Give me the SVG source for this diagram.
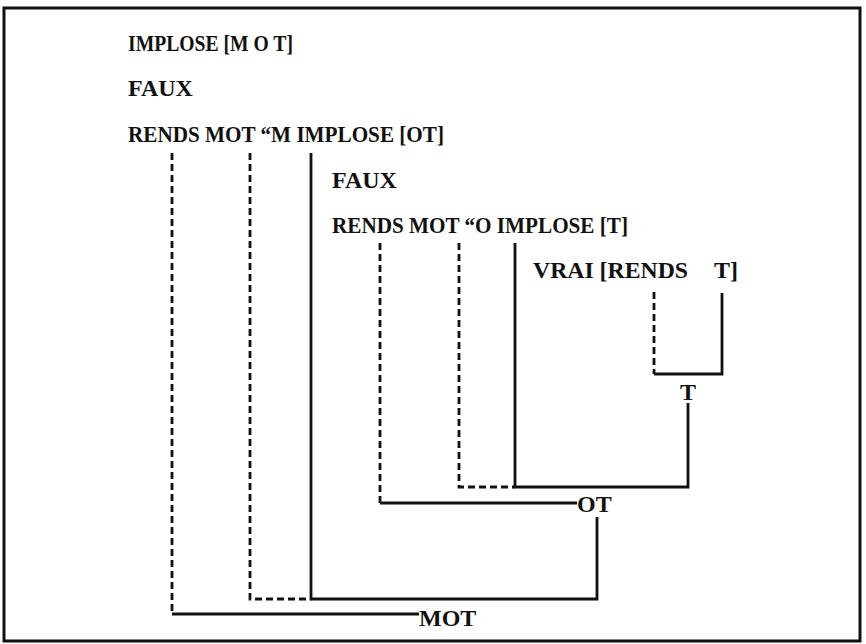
<svg xmlns="http://www.w3.org/2000/svg" width="866" height="644" viewBox="0 0 866 644">
<style>
  .t { font-family: "Liberation Serif", "Times New Roman", serif; font-weight: bold; font-size: 24px; fill: #111; }
  .s { fill: none; stroke: #111; stroke-width: 2.8; stroke-linejoin: miter; stroke-linecap: butt; }
  .d { fill: none; stroke: #111; stroke-width: 2.8; stroke-dasharray: 7 4; }
  .frame { fill: #fff; stroke: #111; stroke-width: 3; }
</style>
<rect class="frame" x="4" y="8" width="856" height="633"/>
<g id="lines-text">
  <text id="l1" class="t" x="128" y="51" textLength="165" lengthAdjust="spacingAndGlyphs">IMPLOSE [M O T]</text>
  <text id="l2" class="t" x="128" y="96">FAUX</text>
  <text id="l3" class="t" x="128" y="142" textLength="316" lengthAdjust="spacingAndGlyphs">RENDS MOT “M IMPLOSE [OT]</text>
  <text id="l4" class="t" x="332" y="188">FAUX</text>
  <text id="l5" class="t" x="332" y="233" textLength="296" lengthAdjust="spacingAndGlyphs">RENDS MOT “O IMPLOSE [T]</text>
  <text id="l6" class="t" x="533" y="278" textLength="155" lengthAdjust="spacingAndGlyphs">VRAI [RENDS</text>
  <text id="l6b" class="t" x="714" y="278">T]</text>
</g>
<g id="node-T"><text class="t" x="680" y="400">T</text></g>
<g id="node-OT"><text class="t" x="577" y="512">OT</text></g>
<g id="node-MOT"><text class="t" x="419" y="626">MOT</text></g>
<g id="connectors">
  <path class="d" d="M654 292 V374"/>
  <path class="s" d="M654 374 H722 V293"/>
  <path class="s" d="M688 403 V487 H515 V243"/>
  <path class="d" d="M459 243 V487 H515"/>
  <path class="d" d="M380 243 V503"/>
  <path class="s" d="M380 503 H577"/>
  <path class="s" d="M597 517 V599 H311 V153"/>
  <path class="d" d="M250 153 V599 H311"/>
  <path class="d" d="M172 153 V614"/>
  <path class="s" d="M172 614 H419"/>
</g>
</svg>
